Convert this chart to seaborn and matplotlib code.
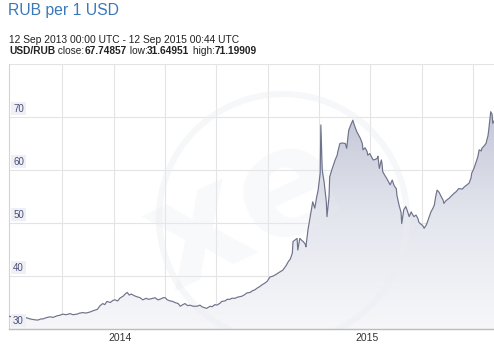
import numpy as np
import pandas as pd
import matplotlib
matplotlib.use("Agg")
import matplotlib.pyplot as plt
import seaborn as sns
from matplotlib.colors import LinearSegmentedColormap
from matplotlib.patches import Circle
from matplotlib.transforms import IdentityTransform

# ---- data (days since 12 Sep 2013, USD/RUB rate) ----
days = [0, 4, 10, 16, 22, 26, 31, 35, 40, 43,
        47, 50, 54, 60, 65, 71, 75, 79, 84, 90,
        94, 100, 104, 109, 113, 119, 125, 130, 134, 138,
        141, 144, 149, 153, 156, 160, 163, 168, 171, 174,
        177, 180, 184, 188, 193, 197, 202, 205, 209, 215,
        219, 222, 227, 230, 233, 237, 241, 244, 249, 252,
        256, 259, 263, 266, 271, 277, 281, 284, 288, 291,
        296, 299, 303, 306, 311, 313, 318, 321, 325, 328,
        333, 336, 340, 343, 347, 350, 355, 358, 362, 365,
        369, 372, 377, 380, 384, 389, 393, 399, 403, 408,
        411, 414, 417, 418, 421, 424, 425, 428, 431, 433,
        436, 437, 440, 443, 446, 447, 450, 453, 455, 458,
        459, 461, 464, 467, 468, 471, 472, 475, 480, 483,
        484, 487, 490, 495, 497, 500, 503, 505, 506, 509,
        512, 517, 520, 521, 524, 527, 528, 531, 534, 536,
        539, 542, 543, 545, 548, 549, 550, 553, 556, 561,
        564, 567, 570, 571, 574, 577, 578, 581, 584, 587,
        589, 592, 593, 596, 599, 602, 603, 606, 609, 611,
        614, 615, 618, 621, 624, 626, 628, 630, 633, 636,
        639, 640, 643, 648, 651, 655, 658, 662, 667, 670,
        674, 677, 680, 681, 684, 687, 690, 692, 695, 696,
        699, 702, 705, 706, 709, 711, 712, 715, 718, 721,
        724, 727, 730]
rates = [32.4, 32.3, 32.5, 32.2, 32.3, 32.1, 31.9, 31.8, 31.7, 31.7,
         31.9, 31.9, 32.1, 32.3, 32.2, 32.5, 32.6, 32.8, 32.7, 32.9,
         32.7, 32.8, 33.0, 33.1, 33.0, 33.2, 33.5, 33.7, 34.4, 34.8,
         34.6, 35.2, 35.0, 35.4, 35.5, 35.3, 35.8, 36.2, 36.6, 36.9,
         36.4, 36.6, 36.3, 36.1, 35.9, 35.5, 35.8, 35.6, 35.7, 35.9,
         35.5, 35.6, 35.9, 35.9, 35.5, 35.3, 35.2, 35.0, 34.8, 34.3,
         34.6, 34.8, 34.4, 34.5, 34.3, 34.3, 34.5, 34.2, 34.0, 33.9,
         34.3, 34.2, 34.6, 34.5, 34.9, 35.2, 35.3, 35.6, 35.6, 35.8,
         35.8, 36.0, 36.1, 36.2, 36.5, 36.8, 36.9, 37.2, 37.4, 37.7,
         38.0, 38.3, 38.7, 39.0, 39.8, 40.0, 40.3, 40.8, 41.1, 42.0,
         42.7, 43.2, 44.3, 46.5, 46.8, 47.1, 44.9, 47.1, 46.7, 46.5,
         46.0, 45.5, 48.7, 51.0, 53.4, 54.0, 52.8, 55.0, 56.2, 59.4,
         68.5, 60.0, 57.5, 54.0, 51.2, 55.0, 58.7, 60.0, 61.9, 62.8,
         63.5, 65.0, 65.1, 65.0, 64.1, 67.5, 68.5, 69.1, 69.4, 68.2,
         67.2, 66.0, 65.0, 63.8, 64.2, 63.5, 62.8, 63.1, 62.4, 61.9,
         62.0, 62.2, 62.6, 60.3, 61.9, 61.2, 59.7, 59.0, 58.4, 57.2,
         58.1, 57.0, 56.5, 55.2, 53.4, 52.0, 49.9, 52.5, 53.1, 52.0,
         51.2, 52.1, 51.8, 51.2, 51.5, 50.8, 50.2, 49.8, 49.5, 49.0,
         49.6, 49.9, 51.0, 52.1, 52.8, 53.4, 55.0, 56.2, 55.8, 55.0,
         54.3, 53.7, 54.2, 54.7, 55.1, 55.6, 55.9, 56.5, 56.4, 56.8,
         57.2, 57.5, 58.5, 59.4, 60.2, 61.3, 62.5, 63.8, 63.6, 64.1,
         64.5, 65.0, 66.5, 67.5, 71.0, 70.5, 68.8, 69.5, 68.5, 68.0,
         67.2, 67.5, 67.7]

y_ticks = [30, 40, 50, 60, 70]
y_grid = [30, 40, 50, 60, 70, 80]
grid_days = [78, 154, 229, 305, 381, 456, 532, 608, 683]
year_labels = ["2014", "2015"]
year_label_days = [163, 527]

title = "RUB per 1 USD"
subtitle = "12 Sep 2013 00:00 UTC - 12 Sep 2015 00:44 UTC"
stats_parts = [("USD/RUB", "bold"), (" close:", "normal"), ("67.74857", "bold"),
               (" low:", "normal"), ("31.64951", "bold"),
               (" high:", "normal"), ("71.19909", "bold")]

# ---- style ----
sns.set_theme(style="white")
plt.rcParams["font.family"] = ["Liberation Sans", "DejaVu Sans"]

W, H = 494, 347
fig = plt.figure(figsize=(W / 100, H / 100), dpi=100)
fig.patch.set_facecolor("white")
ax = fig.add_axes([9 / W, 18 / H, 496 / W, 265 / H])
ax.set_facecolor("white")

df = pd.DataFrame({"day": days, "rate": rates})

# gradient fill under the curve
poly = ax.fill_between(df["day"], df["rate"], 30, color="none", lw=0)
grad = np.linspace(0, 1, 256).reshape(-1, 1)
cmap = LinearSegmentedColormap.from_list("g", ["#f7f7fa", "#e4e6ee", "#c2c5d6"])
im = ax.imshow(grad, extent=[0, 730, 30, 72], origin="lower", aspect="auto",
               cmap=cmap, zorder=1, interpolation="bilinear")
im.set_clip_path(poly.get_paths()[0], transform=ax.transData)

# faint watermark
ring = Circle((283, H - 218), 124, transform=IdentityTransform(), fill=False,
              ec="#eceef3", lw=4.5, zorder=2, alpha=0.45)
ax.add_patch(ring)
ax.text(245, H - 212, "xe", transform=IdentityTransform(), fontsize=108,
        weight="bold", color="#e9ebf1", alpha=0.3, rotation=25,
        ha="center", va="center", zorder=2, family="DejaVu Sans")

sns.lineplot(data=df, x="day", y="rate", ax=ax, color="#6e728b", lw=0.85,
             zorder=3)

ax.set_xlim(0, 730)
ax.set_ylim(30, 80)
ax.set_xticks(grid_days)
ax.set_yticks(y_grid)
ax.grid(True, color="#e4e4e4", lw=0.8)
ax.tick_params(length=0, labelleft=False, labelbottom=False)
ax.set_xlabel("")
ax.set_ylabel("")
for s in ["top", "right"]:
    ax.spines[s].set_visible(False)
ax.spines["left"].set_color("#d4d4d4")
ax.spines["left"].set_linewidth(0.8)
ax.spines["bottom"].set_color("#bcbcbc")
ax.spines["bottom"].set_linewidth(1.0)

for v in y_ticks:
    ax.annotate(str(v), xy=(0, v), xytext=(3, 2.5), textcoords="offset points",
                ha="left", va="bottom", fontsize=7, color="#4a4c78", zorder=5,
                bbox=dict(boxstyle="square,pad=0.18", fc="#eef0f6", ec="none"))

for d, lab in zip(year_label_days, year_labels):
    ax.annotate(lab, xy=(d, 30), xytext=(0, -6.5), textcoords="offset points",
                ha="center", va="center", fontsize=7.5, color="#333333",
                annotation_clip=False)

# header texts
fig.text(8 / W, 1 - 10 / H, title, fontsize=11.3, color="#3a78b8", va="center",
         ha="left")
fig.text(9 / W, 1 - 40 / H, subtitle, fontsize=7.4, color="#222222",
         va="center", ha="left")
renderer = fig.canvas.get_renderer()
x = 9
for s, w in stats_parts:
    t = fig.text(x / W, 1 - 53.5 / H, s, fontsize=7.25, weight=w,
                 color="#222222", va="baseline", ha="left")
    bb = t.get_window_extent(renderer)
    x = bb.x1

fig.savefig("out.png", dpi=100, facecolor="white")
